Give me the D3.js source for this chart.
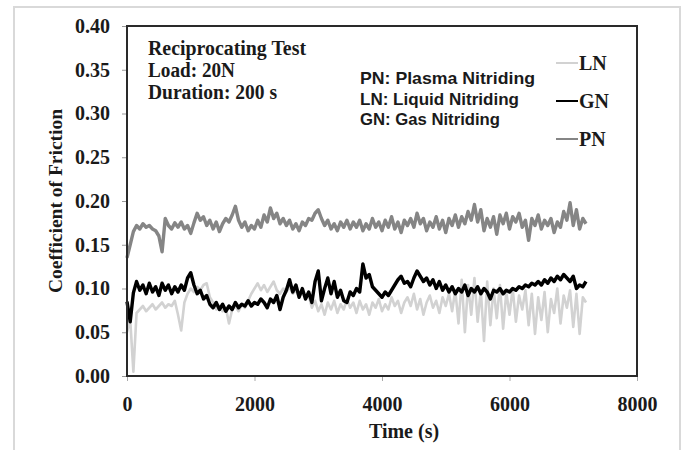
<!DOCTYPE html>
<html>
<head>
<meta charset="utf-8">
<script src="https://cdn.jsdelivr.net/npm/d3@7"></script>
<style>
  body { margin: 0; background: #fff; }
  .serif { font-family: "Liberation Serif", "DejaVu Serif", serif; font-weight: bold; fill: #1a1a1a; }
  .sans { font-family: "Liberation Sans", "Noto Sans", sans-serif; font-weight: bold; fill: #1a1a1a; }
</style>
</head>
<body>
<div class="d3-container"></div>
<script>
// sampling step of the recorded friction traces, seconds
const timeStep = 50;

// Liquid Nitriding
const lnValues = [
  0.050, 0.065, 0.005, 0.072, 0.076, 0.080, 0.074, 0.078, 0.082, 0.076,
  0.080, 0.084, 0.078, 0.082, 0.080, 0.086, 0.070, 0.052, 0.084, 0.094,
  0.100, 0.096, 0.102, 0.098, 0.104, 0.106, 0.090, 0.084, 0.076, 0.080,
  0.074, 0.078, 0.060, 0.076, 0.080, 0.074, 0.082, 0.078, 0.086, 0.094,
  0.100, 0.106, 0.098, 0.104, 0.096, 0.102, 0.108, 0.098, 0.094, 0.100,
  0.096, 0.102, 0.094, 0.098, 0.090, 0.096, 0.088, 0.092, 0.078, 0.086,
  0.074, 0.082, 0.070, 0.084, 0.076, 0.086, 0.072, 0.082, 0.076, 0.088,
  0.078, 0.084, 0.072, 0.086, 0.076, 0.082, 0.070, 0.084, 0.078, 0.088,
  0.074, 0.082, 0.076, 0.090, 0.080, 0.086, 0.072, 0.084, 0.090, 0.080,
  0.094, 0.076, 0.088, 0.070, 0.084, 0.092, 0.078, 0.086, 0.072, 0.090,
  0.080, 0.094, 0.074, 0.098, 0.060, 0.110, 0.050, 0.104, 0.070, 0.112,
  0.062, 0.098, 0.040, 0.108, 0.058, 0.100, 0.066, 0.104, 0.054, 0.096,
  0.070, 0.100, 0.062, 0.092, 0.076, 0.098, 0.058, 0.094, 0.048, 0.090,
  0.064, 0.096, 0.050, 0.088, 0.072, 0.100, 0.060, 0.092, 0.078, 0.098,
  0.056, 0.094, 0.048, 0.090, 0.084
];

// Gas Nitriding
const gnValues = [
  0.085, 0.062, 0.095, 0.108, 0.098, 0.104, 0.094, 0.106, 0.096, 0.102,
  0.092, 0.106, 0.098, 0.104, 0.094, 0.102, 0.096, 0.104, 0.098, 0.112,
  0.118, 0.104, 0.094, 0.098, 0.088, 0.092, 0.082, 0.078, 0.084, 0.076,
  0.082, 0.074, 0.080, 0.076, 0.084, 0.078, 0.082, 0.080, 0.086, 0.080,
  0.084, 0.082, 0.088, 0.084, 0.078, 0.088, 0.084, 0.092, 0.076, 0.090,
  0.098, 0.110, 0.096, 0.104, 0.090, 0.100, 0.088, 0.096, 0.084, 0.108,
  0.120, 0.086, 0.100, 0.112, 0.094, 0.108, 0.090, 0.098, 0.086, 0.084,
  0.096, 0.092, 0.100, 0.096, 0.128, 0.112, 0.116, 0.102, 0.098, 0.094,
  0.090, 0.096, 0.092, 0.098, 0.104, 0.110, 0.114, 0.106, 0.108, 0.102,
  0.112, 0.120, 0.114, 0.108, 0.112, 0.104, 0.110, 0.100, 0.108, 0.098,
  0.104, 0.096, 0.102, 0.094, 0.100, 0.096, 0.104, 0.092, 0.100, 0.096,
  0.102, 0.094, 0.100, 0.096, 0.088, 0.098, 0.096, 0.100, 0.094, 0.098,
  0.096, 0.100, 0.098, 0.102, 0.100, 0.104, 0.102, 0.106, 0.104, 0.108,
  0.104, 0.110, 0.106, 0.112, 0.108, 0.114, 0.110, 0.116, 0.112, 0.108,
  0.114, 0.100, 0.104, 0.102, 0.108
];

// Plasma Nitriding
const pnValues = [
  0.135, 0.150, 0.165, 0.172, 0.168, 0.174, 0.170, 0.172, 0.168, 0.166,
  0.160, 0.142, 0.180, 0.172, 0.168, 0.175, 0.170, 0.176, 0.168, 0.172,
  0.163, 0.175, 0.186, 0.178, 0.182, 0.172, 0.178, 0.168, 0.176, 0.165,
  0.174, 0.180, 0.176, 0.184, 0.194, 0.178, 0.170, 0.176, 0.166, 0.172,
  0.168, 0.178, 0.170, 0.184, 0.176, 0.192, 0.180, 0.186, 0.174, 0.180,
  0.172, 0.178, 0.168, 0.174, 0.166, 0.176, 0.172, 0.180, 0.178, 0.186,
  0.190, 0.180, 0.172, 0.178, 0.168, 0.174, 0.166, 0.176, 0.170, 0.178,
  0.168, 0.176, 0.170, 0.178, 0.166, 0.174, 0.168, 0.180, 0.170, 0.176,
  0.166, 0.178, 0.170, 0.182, 0.168, 0.176, 0.164, 0.178, 0.172, 0.180,
  0.170, 0.186, 0.174, 0.180, 0.166, 0.176, 0.170, 0.182, 0.168, 0.178,
  0.164, 0.180, 0.172, 0.184, 0.170, 0.182, 0.174, 0.188, 0.178, 0.196,
  0.176, 0.190, 0.166, 0.180, 0.170, 0.182, 0.162, 0.184, 0.174, 0.186,
  0.168, 0.182, 0.176, 0.186, 0.170, 0.178, 0.155, 0.180, 0.172, 0.184,
  0.168, 0.178, 0.172, 0.180, 0.164, 0.176, 0.170, 0.188, 0.178, 0.198,
  0.172, 0.190, 0.168, 0.180, 0.174
];

const seriesNames = ["LN", "GN", "PN"];
const seriesColors = ["#d2d2d2", "#000000", "#858585"];
const yTicks = [0, 0.05, 0.10, 0.15, 0.20, 0.25, 0.30, 0.35, 0.40];
const xTicks = [0, 2000, 4000, 6000, 8000];
const notes = ["Reciprocating Test", "Load: 20N", "Duration: 200 s"];
const abbreviations = ["PN:  Plasma Nitriding", "LN: Liquid Nitriding", "GN: Gas Nitriding"];

// size of the picture and the plot box inside it
const width = 686;
const height = 450;
const margin = {top: 26, bottom: 74, left: 127, right: 49};

const svg = d3.select(".d3-container")
  .append("svg")
  .attr("width", width)
  .attr("height", height)
  .attr("viewBox", [0, 0, width, height]);

// light grey frame round the whole figure (open at the bottom)
svg.append("path")
  .attr("d", `M14,${height} V7 H680 V${height}`)
  .attr("fill", "none")
  .attr("stroke", "#d9d9d9")
  .attr("stroke-width", 2);

const x = d3.scaleLinear()
  .domain([0, 8000])
  .range([margin.left, width - margin.right]);

const y = d3.scaleLinear()
  .domain([0, 0.4])
  .range([height - margin.bottom, margin.top]);

// y axis labels and ticks
function yAxis(g) {
  g.attr("transform", `translate(${margin.left}, 0)`)
    .call(d3.axisLeft(y).tickValues(yTicks).tickFormat(d3.format(".2f")).tickSize(5).tickPadding(12))
  g.select(".domain").remove();
  g.selectAll(".tick line").attr("stroke", "#999");
  g.selectAll(".tick text").attr("class", "serif").style("font-size", "20px");
}

// x axis labels and ticks
function xAxis(g) {
  g.attr("transform", `translate(0, ${height - margin.bottom})`)
    .call(d3.axisBottom(x).tickValues(xTicks).tickFormat(d3.format("d")).tickSize(5).tickPadding(16))
  g.select(".domain").remove();
  g.selectAll(".tick line").attr("stroke", "#aaa");
  g.selectAll(".tick text").attr("class", "serif").style("font-size", "20px");
}

svg.append("g").call(yAxis);
svg.append("g").call(xAxis);

// the three friction traces, LN underneath
const line = d3.line()
  .x((d, i) => x(i * timeStep))
  .y(d => y(d));

const traces = [
  {values: lnValues, color: seriesColors[0], w: 2.6},
  {values: pnValues, color: seriesColors[2], w: 3.4},
  {values: gnValues, color: seriesColors[1], w: 3.4}
];

svg.append("g")
  .selectAll("path")
  .data(traces)
  .join("path")
  .attr("fill", "none")
  .attr("stroke", d => d.color)
  .attr("stroke-width", d => d.w)
  .attr("stroke-linejoin", "round")
  .attr("d", d => line(d.values));

// plot box
svg.append("rect")
  .attr("x", margin.left)
  .attr("y", margin.top)
  .attr("width", width - margin.left - margin.right)
  .attr("height", height - margin.top - margin.bottom)
  .attr("fill", "none")
  .attr("stroke", "#2a2a2a")
  .attr("stroke-width", 2);

// axis titles
svg.append("text")
  .attr("class", "serif")
  .attr("transform", `translate(62, ${(margin.top + height - margin.bottom) / 2}) rotate(-90)`)
  .attr("text-anchor", "middle")
  .style("font-size", "19.5px")
  .text("Coefficient of Friction");

svg.append("text")
  .attr("class", "serif")
  .attr("x", 404)
  .attr("y", 438)
  .attr("text-anchor", "middle")
  .style("font-size", "20px")
  .text("Time (s)");

// test conditions
svg.append("g")
  .selectAll("text")
  .data(notes)
  .join("text")
  .attr("class", "serif")
  .attr("x", 148)
  .attr("y", (d, i) => 55 + i * 22)
  .style("font-size", "20px")
  .attr("textLength", (d, i) => [158, 87, 129][i])
  .attr("lengthAdjust", "spacingAndGlyphs")
  .text(d => d);

// what the abbreviations mean
svg.append("g")
  .selectAll("text")
  .data(abbreviations)
  .join("text")
  .attr("class", "sans")
  .attr("x", 360)
  .attr("y", (d, i) => 84 + i * 20.5)
  .style("font-size", "16.5px")
  .attr("textLength", (d, i) => [175, 159, 140][i])
  .attr("lengthAdjust", "spacingAndGlyphs")
  .text(d => d);

// legend
const legend = svg.append("g")
  .selectAll("g")
  .data(seriesNames)
  .join("g")
  .attr("transform", (d, i) => `translate(556, ${63 + i * 38})`);

legend.append("line")
  .attr("x1", 0)
  .attr("x2", 22)
  .attr("stroke", (d, i) => seriesColors[i])
  .attr("stroke-width", 2);

legend.append("text")
  .attr("class", "serif")
  .attr("x", 23)
  .attr("dy", "0.35em")
  .style("font-size", "20px")
  .text(d => d);
</script>
</body>
</html>
